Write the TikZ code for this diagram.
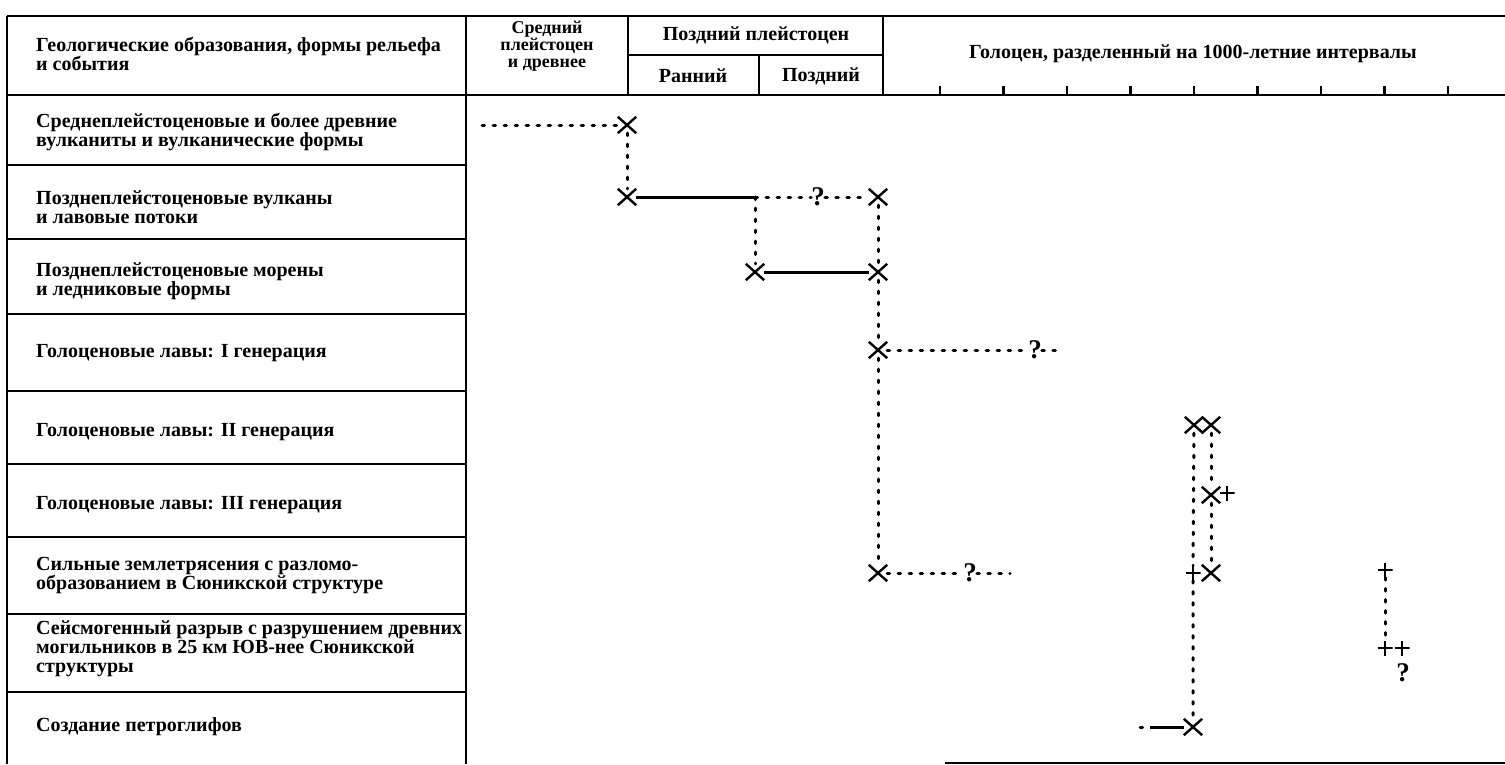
\documentclass[tikz,border=0pt]{standalone}
\usepackage{fontspec}
\setmainfont{Liberation Serif}
\usetikzlibrary{shapes.misc}

\begin{document}
\begin{tikzpicture}[x=1pt, y=-1pt,
	every node/.style={font=\bfseries\fontsize{20}{19}\selectfont},
	lbl/.style={anchor=west, align=left, inner sep=0pt},
	hdr/.style={align=center, inner sep=0pt},
	rule/.style={line width=2.6pt},
	xmark/.style={cross out, draw, line width=2.4pt, minimum width=16pt,
		minimum height=14pt, inner sep=0pt},
	pmark/.style={minimum size=15pt, inner sep=0pt, path picture={
		\draw[line width=2.2pt] (path picture bounding box.north) -- (path picture bounding box.south)
			(path picture bounding box.west) -- (path picture bounding box.east);}},
	qmark/.style={inner sep=0pt, font=\bfseries\fontsize{27}{27}\selectfont},
	dots/.style={line width=3pt, line cap=round, dash pattern=on 2.5pt off 8.5pt},
	span/.style={line width=3pt}]
	\useasboundingbox (0,0) rectangle (1505,764);

	% table
	\draw[rule] (7,16) -- (1505,16);
	\draw[rule] (7,16) -- (7,764);
	\draw[rule] (466,16) -- (466,764);
	\draw[rule] (628,16) -- (628,95);
	\draw[rule] (883,16) -- (883,95);
	\draw[rule] (628,55) -- (883,55);
	\draw[rule] (759,55) -- (759,95);
	\draw[rule] (7,95) -- (1505,95);
	\foreach \y in {165,239,314,391,464,537,614,692}
		\draw[rule] (7,\y) -- (466,\y);
	\foreach \i in {0,...,8}
		\draw[rule] (940+63.5*\i,95) -- ++(0,-9);
	\draw[rule] (945,763) -- (1505,763);

	% header
	\node[lbl] (h0) at (36,54) {Геологические образования, формы рельефа\\и события};
	\node[hdr, font=\bfseries\fontsize{18}{17}\selectfont] (hm) at (547,46) {Средний\\плейстоцен\\и древнее};
	\node[hdr] (hl) at (756,35) {Поздний плейстоцен};
	\node[hdr] (hl1) at (693,76) {Ранний};
	\node[hdr] (hl2) at (821,76) {Поздний};
	\node[hdr] (hh) at (1193,54) {Голоцен, разделенный на 1000-летние интервалы};

	% rows
	\node[lbl] (r1) at (36,132) {Среднеплейстоценовые и более древние\\вулканиты и вулканические формы};
	\node[lbl] (r2) at (36,207) {Позднеплейстоценовые вулканы\\и лавовые потоки};
	\node[lbl] (r3) at (36,281) {Позднеплейстоценовые морены\\и ледниковые формы};
	\node[lbl] (r4) at (36,353) {Голоценовые лавы: I генерация};
	\node[lbl] (r5) at (36,432) {Голоценовые лавы: II генерация};
	\node[lbl] (r6) at (36,505) {Голоценовые лавы: III генерация};
	\node[lbl] (r7) at (36,576) {Сильные землетрясения с разломо-\\образованием в Сюникской структуре};
	\node[lbl] (r8) at (36,649) {Сейсмогенный разрыв с разрушением древних\\могильников в 25 км ЮВ-нее Сюникской\\структуры};
	\node[lbl] (r9) at (36,727) {Создание петроглифов};

	% marks
	\coordinate (a0) at (482,125);
	\node[xmark] (a1) at (627,125) {};
	\node[xmark] (b1) at (627,197) {};
	\coordinate (b2) at (755,197);
	\node[qmark] (bq) at (818,197) {?};
	\node[xmark] (b3) at (878,197) {};
	\node[xmark] (c1) at (755,272) {};
	\node[xmark] (c2) at (878,272) {};
	\node[xmark] (d1) at (878,350) {};
	\node[qmark] (dq) at (1035,350) {?};
	\coordinate (d2) at (1062,350);
	\node[xmark] (e1) at (1194,425) {};
	\node[xmark] (e2) at (1211,425) {};
	\node[xmark] (f1) at (1211,495) {};
	\node[pmark] (f2) at (1227,493) {};
	\node[xmark] (g1) at (878,573) {};
	\node[qmark] (gq) at (970,573) {?};
	\coordinate (g2) at (1010,573);
	\node[pmark] (g3) at (1193,573) {};
	\node[xmark] (g4) at (1211,573) {};
	\node[pmark] (g5) at (1385,570) {};
	\node[pmark] (h1) at (1385,648) {};
	\node[pmark] (h2) at (1402,648) {};
	\node[qmark] (hq) at (1403,673) {?};
	\coordinate (i0) at (1140,727);
	\coordinate (i1) at (1150,727);
	\node[xmark] (i2) at (1193,727) {};

	% links
	\draw[dots] (a0) -- (a1);
	\draw[dots] (a1) -- (b1);
	\draw[span] (b1) -- (b2);
	\draw[dots] (b2) -- (bq) -- (b3);
	\draw[dots] (b2) -- (c1);
	\draw[dots] (b3) -- (c2);
	\draw[span] (c1) -- (c2);
	\draw[dots] (c2) -- (d1);
	\draw[dots] (d1) -- (dq) -- (d2);
	\draw[dots] (d1) -- (g1);
	\draw[dots] (g1) -- (gq) -- (g2);
	\draw[dots] (e1) -- (g3) -- (i2);
	\draw[dots] (e2) -- (f1) -- (g4);
	\draw[dots] (g5) -- (h1);
	\draw[dots] (i0) -- (i1);
	\draw[span] (i1) -- (i2);
\end{tikzpicture}
\end{document}
